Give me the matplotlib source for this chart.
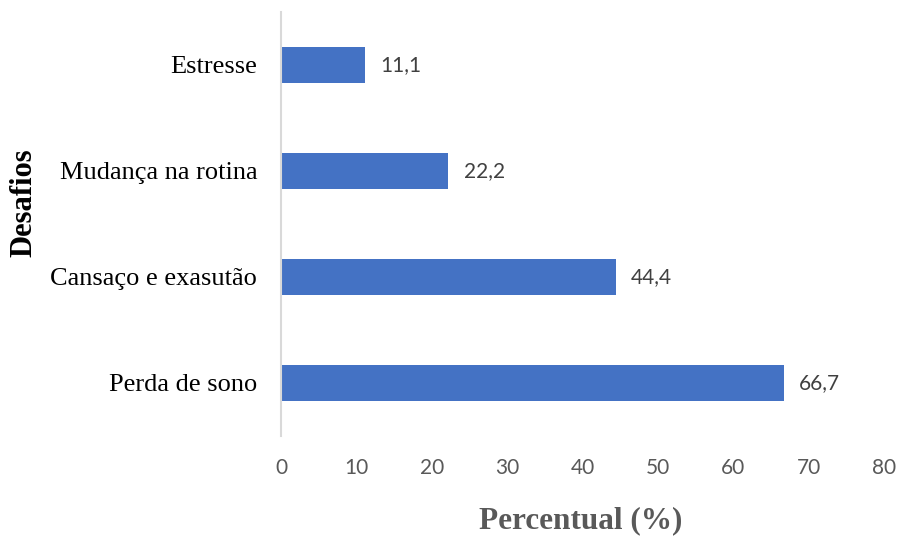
import matplotlib
matplotlib.use("Agg")
import matplotlib.pyplot as plt

# data, bottom to top as drawn
categories = ["Perda de sono", "Cansaço e exasutão", "Mudança na rotina", "Estresse"]
values = [66.7, 44.4, 22.2, 11.1]
value_labels = ["66,7", "44,4", "22,2", "11,1"]
xticks = [0, 10, 20, 30, 40, 50, 60, 70, 80]

serif = "Liberation Serif"
sans = "Lato"

fig = plt.figure(figsize=(9.04, 5.38), dpi=100)
ax = fig.add_axes([0.3108, 0.1896, 0.6671, 0.7881])

pos = list(range(len(categories)))
ax.barh(pos, values, height=0.34, color="#4472c4")

for p, v, lab in zip(pos, values, value_labels):
    ax.annotate(lab, (v, p), xytext=(11, 0), textcoords="offset points",
                va="center", ha="left", fontsize=15, family=sans, color="#404040")

ax.set_xlim(0, 80)
ax.set_ylim(-0.5, len(categories) - 0.5)
ax.set_xticks(xticks)
ax.set_xticklabels([str(t) for t in xticks], family=sans, fontsize=15, color="#595959")
ax.set_yticks(pos)
ax.set_yticklabels(categories, family=serif, fontsize=19, color="black")
ax.tick_params(axis="both", length=0)
ax.tick_params(axis="x", pad=16)
ax.tick_params(axis="y", pad=17)

for s in ["top", "right", "bottom"]:
    ax.spines[s].set_visible(False)
ax.spines["left"].set_color("#d9d9d9")
ax.spines["left"].set_linewidth(1.5)

fig.text(0.026, 1 - 203 / 538, "Desafios", rotation=90, family=serif, fontsize=22,
         fontweight="bold", color="black", va="center", ha="center")
fig.text(0.6425, 1 - 521 / 538, "Percentual (%)", family=serif, fontsize=22.5,
         fontweight="bold", color="#595959", va="center", ha="center")

fig.savefig("out.png", dpi=100)
